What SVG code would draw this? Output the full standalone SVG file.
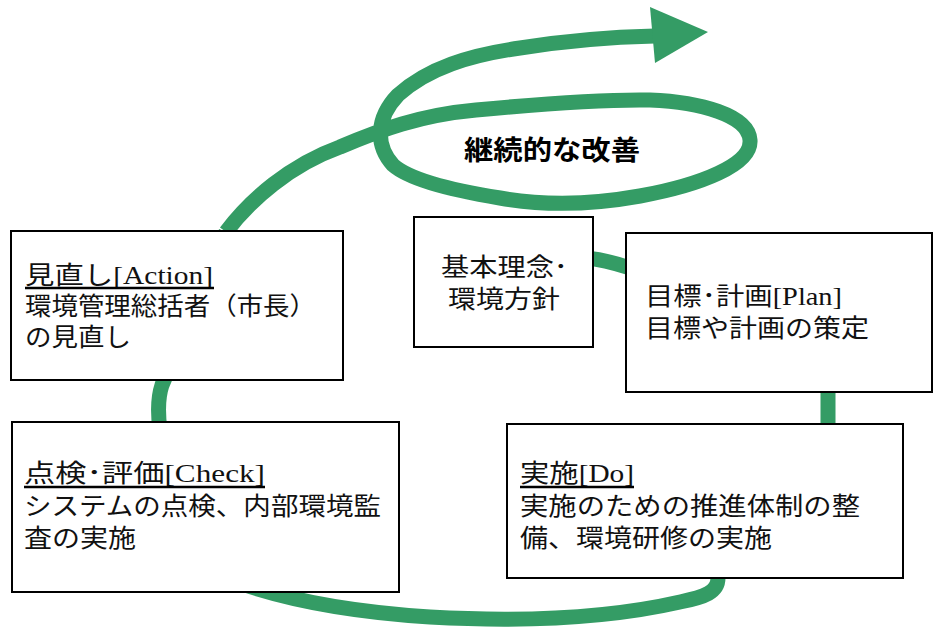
<svg xmlns="http://www.w3.org/2000/svg" width="933" height="627" viewBox="0 0 933 627">
<style>
.g{fill:none;stroke:#349c65;stroke-width:15;stroke-linecap:butt;stroke-linejoin:round}
.box{fill:#fff;stroke:#000;stroke-width:2}
.t{font-family:"Liberation Serif","Noto Sans CJK JP",serif;font-size:25px;fill:#111}
.u{stroke:#000;stroke-width:2.5}
.b{font-family:"Noto Sans CJK JP","Noto Sans CJK SC",sans-serif;font-size:27px;font-weight:bold;fill:#000}
</style>
<rect width="933" height="627" fill="#fff"/>
<g id="connectors">
<path class="g" d="M 585,258 C 600,259 612,262 630,268 L 828,300 L 828,440 L 718,560 L 718,578 C 718,592 705,597 680,602 C 610,618 520,622 430,617 C 350,612 290,600 245,585 L 160,430 C 158,415 157,400 162,385 L 226,232"/>
<path class="g" d="M 226,232 C 250,200 290,165 340,147 C 380,130 420,115 476,110 C 540,104 600,99 650,100 C 700,102 748,115 750,140 C 752,165 700,185 640,196 C 590,205 540,205 500,198 C 450,190 410,180 393,165 C 375,145 376,118 398,95 C 428,68 470,55 520,48 C 570,40 610,37 655,36"/>
<polygon points="650,7 708,32 655,63" fill="#349c65"/>
</g>
<g id="label-kaizen">
<text class="b" x="464" y="160" textLength="176" lengthAdjust="spacingAndGlyphs">継続的な改善</text>
</g>
<g id="node-rinen">
<rect class="box" x="414" y="217" width="179" height="130"/>
<text class="t" x="441" y="276" textLength="127" lengthAdjust="spacingAndGlyphs">基本理念･</text>
<text class="t" x="448" y="308" textLength="112" lengthAdjust="spacingAndGlyphs">環境方針</text>
</g>
<g id="node-plan">
<rect class="box" x="626" y="233" width="306" height="159"/>
<text class="t" x="645" y="305" textLength="197" lengthAdjust="spacingAndGlyphs">目標･計画[Plan]</text>
<text class="t" x="645" y="337" textLength="224" lengthAdjust="spacingAndGlyphs">目標や計画の策定</text>
</g>
<g id="node-action">
<rect class="box" x="11" y="231" width="332" height="149"/>
<text class="t" x="25" y="284" textLength="188" lengthAdjust="spacingAndGlyphs">見直し[Action]</text>
<line class="u" x1="25" y1="288" x2="214" y2="288"/>
<text class="t" x="25" y="315" textLength="291" lengthAdjust="spacingAndGlyphs">環境管理総括者（市長）</text>
<text class="t" x="25" y="346" textLength="106" lengthAdjust="spacingAndGlyphs">の見直し</text>
</g>
<g id="node-check">
<rect class="box" x="12" y="422" width="387" height="170"/>
<text class="t" x="24" y="482" textLength="241" lengthAdjust="spacingAndGlyphs">点検･評価[Check]</text>
<line class="u" x1="24" y1="487" x2="265" y2="487"/>
<text class="t" x="24" y="515" textLength="357" lengthAdjust="spacingAndGlyphs">システムの点検、内部環境監</text>
<text class="t" x="24" y="547" textLength="112" lengthAdjust="spacingAndGlyphs">査の実施</text>
</g>
<g id="node-do">
<rect class="box" x="507" y="424" width="396" height="154"/>
<text class="t" x="520" y="482" textLength="114" lengthAdjust="spacingAndGlyphs">実施[Do]</text>
<line class="u" x1="520" y1="487" x2="634" y2="487"/>
<text class="t" x="520" y="515" textLength="340" lengthAdjust="spacingAndGlyphs">実施のための推進体制の整</text>
<text class="t" x="520" y="547" textLength="252" lengthAdjust="spacingAndGlyphs">備、環境研修の実施</text>
</g>
</svg>
